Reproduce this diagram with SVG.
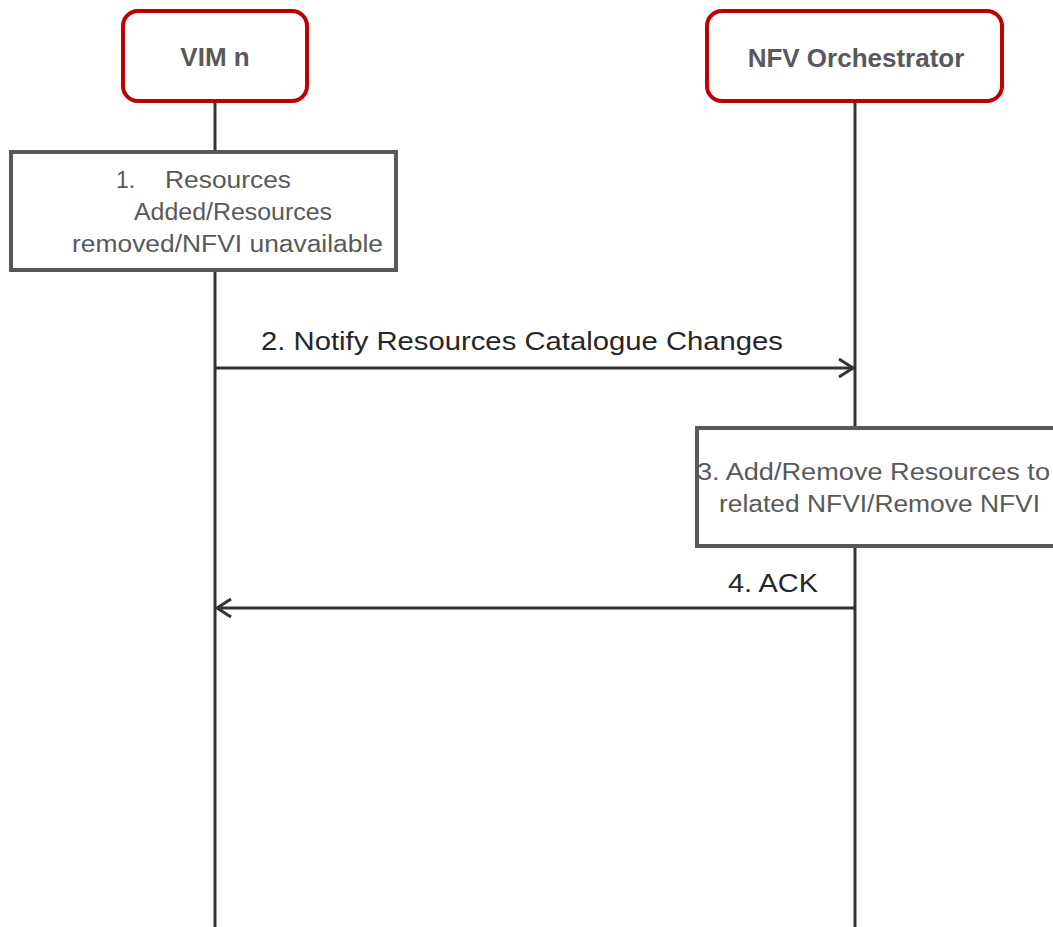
<svg xmlns="http://www.w3.org/2000/svg" width="1053" height="927" viewBox="0 0 1053 927">
<defs>
<style>
.actor{fill:#fff;stroke:#C00000;stroke-width:4}
.box{fill:#fff;stroke:#595959;stroke-width:4}
.life{stroke:#333;stroke-width:3;fill:none}
.msg{stroke:#333;stroke-width:3;fill:none}
.at{font-family:"Liberation Sans",Arial,sans-serif;font-weight:bold;font-size:26px;fill:#595959;text-anchor:middle}
.bt{font-family:"Liberation Sans",Arial,sans-serif;font-size:23px;fill:#595959}
.mt{font-family:"Liberation Sans",Arial,sans-serif;font-size:26px;fill:#262626}
</style>
<marker id="open" markerWidth="18" markerHeight="22" refX="16" refY="11" orient="auto" markerUnits="userSpaceOnUse">
<path d="M2,2 L16,11 L2,20" fill="none" stroke="#333" stroke-width="3"/>
</marker>
</defs>
<rect width="1053" height="927" fill="#fff"/>
<g id="lifelines">
<line class="life" x1="215" y1="101" x2="215" y2="927"/>
<line class="life" x1="855" y1="101" x2="855" y2="927"/>
</g>
<g id="vim">
<rect class="actor" x="123" y="11" width="184" height="90" rx="15"/>
<text class="at" x="215" y="66">VIM n</text>
</g>
<g id="nfvo">
<rect class="actor" x="707" y="11" width="295" height="90" rx="15"/>
<text class="at" x="856" y="67">NFV Orchestrator</text>
</g>
<g id="step1">
<rect class="box" x="11" y="152" width="385" height="118"/>
<text class="bt" x="116" y="188">1.</text>
<text class="bt" x="165" y="188" textLength="126" lengthAdjust="spacingAndGlyphs">Resources</text>
<text class="bt" x="134" y="220" textLength="198" lengthAdjust="spacingAndGlyphs">Added/Resources</text>
<text class="bt" x="72" y="252" textLength="311" lengthAdjust="spacingAndGlyphs">removed/NFVI unavailable</text>
</g>
<g id="step3">
<rect class="box" x="697" y="428" width="370" height="118"/>
<text class="bt" x="697" y="480" textLength="353" lengthAdjust="spacingAndGlyphs">3. Add/Remove Resources to</text>
<text class="bt" x="719" y="512" textLength="321" lengthAdjust="spacingAndGlyphs">related NFVI/Remove NFVI</text>
</g>
<g id="connectors">
<line class="msg" x1="215" y1="368" x2="853" y2="368" marker-end="url(#open)"/>
<text class="mt" x="261" y="350" textLength="522" lengthAdjust="spacingAndGlyphs">2. Notify Resources Catalogue Changes</text>
<line class="msg" x1="855" y1="608" x2="217" y2="608" marker-end="url(#open)"/>
<text class="mt" x="728" y="592" textLength="90" lengthAdjust="spacingAndGlyphs">4. ACK</text>
</g>
</svg>
